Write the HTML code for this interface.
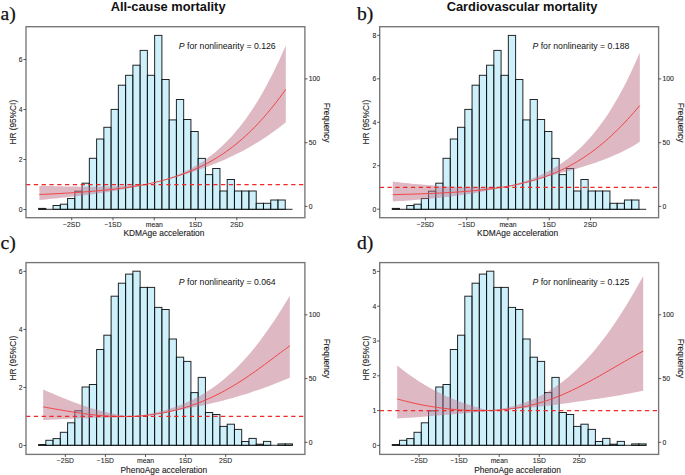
<!DOCTYPE html><html><head><meta charset="utf-8"><style>html,body{margin:0;padding:0;background:#fff;}svg{display:block;} .tk{fill:#222;stroke:#222;stroke-width:0.08px} .ax{fill:#1a1a1a;stroke:#1a1a1a;stroke-width:0.1px}</style></head><body>
<svg width="685" height="475" viewBox="0 0 685 475" font-family="Liberation Sans, sans-serif">
<rect width="685" height="475" fill="#fff"/>
<g transform="translate(0,0)">
<path d="M39.4,185.65 L42.52,185.76 L45.64,185.86 L48.76,185.96 L51.88,186.06 L54.99,186.15 L58.11,186.23 L61.23,186.31 L64.35,186.38 L67.47,186.45 L70.59,186.5 L73.71,186.55 L76.83,186.6 L79.95,186.63 L83.07,186.66 L86.18,186.67 L89.3,186.68 L92.42,186.67 L95.54,186.66 L98.66,186.63 L101.78,186.59 L104.9,186.54 L108.02,186.48 L111.14,186.4 L114.26,186.31 L117.37,186.2 L120.49,186.08 L123.61,185.95 L126.73,185.79 L129.85,185.62 L132.97,185.43 L136.09,185.22 L139.21,184.99 L142.33,184.74 L145.45,184.42 L148.56,183.74 L151.68,183.02 L154.8,182.25 L157.92,181.42 L161.04,180.53 L164.16,179.58 L167.28,178.57 L170.4,177.49 L173.52,176.35 L176.64,175.13 L179.75,173.83 L182.87,172.45 L185.99,170.99 L189.11,169.44 L192.23,167.79 L195.35,166.04 L198.47,164.19 L201.59,162.22 L204.71,160.14 L207.83,157.94 L210.94,155.61 L214.06,153.14 L217.18,150.53 L220.3,147.78 L223.42,144.87 L226.54,141.8 L229.66,138.57 L232.78,135.16 L235.9,131.57 L239.02,127.79 L242.13,123.83 L245.25,119.66 L248.37,115.29 L251.49,110.71 L254.61,105.92 L257.73,100.91 L260.85,95.67 L263.97,90.21 L267.09,84.52 L270.21,78.6 L273.32,72.44 L276.44,66.05 L279.56,59.44 L282.68,52.59 L285.8,45.52 L285.8,122.24 L282.68,124.74 L279.56,127.17 L276.44,129.52 L273.32,131.8 L270.21,134.01 L267.09,136.16 L263.97,138.24 L260.85,140.26 L257.73,142.21 L254.61,144.11 L251.49,145.95 L248.37,147.73 L245.25,149.46 L242.13,151.14 L239.02,152.76 L235.9,154.34 L232.78,155.87 L229.66,157.35 L226.54,158.79 L223.42,160.18 L220.3,161.53 L217.18,162.83 L214.06,164.1 L210.94,165.33 L207.83,166.52 L204.71,167.67 L201.59,168.79 L198.47,169.88 L195.35,170.94 L192.23,171.96 L189.11,172.95 L185.99,173.92 L182.87,174.86 L179.75,175.78 L176.64,176.67 L173.52,177.54 L170.4,178.38 L167.28,179.2 L164.16,180.07 L161.04,180.9 L157.92,181.68 L154.8,182.42 L151.68,183.12 L148.56,183.79 L145.45,184.42 L142.33,185.18 L139.21,185.93 L136.09,186.64 L132.97,187.33 L129.85,187.99 L126.73,188.62 L123.61,189.23 L120.49,189.81 L117.37,190.37 L114.26,190.91 L111.14,191.44 L108.02,191.94 L104.9,192.42 L101.78,192.89 L98.66,193.35 L95.54,193.79 L92.42,194.21 L89.3,194.63 L86.18,195.03 L83.07,195.42 L79.95,195.8 L76.83,196.16 L73.71,196.52 L70.59,196.87 L67.47,197.21 L64.35,197.54 L61.23,197.87 L58.11,198.19 L54.99,198.5 L51.88,198.8 L48.76,199.1 L45.64,199.39 L42.52,199.67 L39.4,199.95 Z" fill="#f1eeed"/>
<line x1="38.55" y1="209.3" x2="292.5" y2="209.3" stroke="#000" stroke-opacity="0.85" stroke-width="1"/>
<g fill="#ace6f8" fill-opacity="0.6" stroke="#000" stroke-opacity="0.85" stroke-width="1"><rect x="38.55" y="208.4" width="7.26" height="0.9"/><rect x="45.81" y="209.3" width="7.26" height="0"/><rect x="53.06" y="205.5" width="7.26" height="3.8"/><rect x="60.32" y="204.2" width="7.26" height="5.1"/><rect x="67.57" y="198.5" width="7.26" height="10.8"/><rect x="74.83" y="191.2" width="7.26" height="18.1"/><rect x="82.08" y="183.2" width="7.26" height="26.1"/><rect x="89.34" y="158.3" width="7.26" height="51"/><rect x="96.6" y="139" width="7.26" height="70.3"/><rect x="103.85" y="127.3" width="7.26" height="82"/><rect x="111.11" y="109.4" width="7.26" height="99.9"/><rect x="118.36" y="85.2" width="7.26" height="124.1"/><rect x="125.62" y="75.3" width="7.26" height="134"/><rect x="132.87" y="65.2" width="7.26" height="144.1"/><rect x="140.13" y="50.4" width="7.26" height="158.9"/><rect x="147.39" y="75.3" width="7.26" height="134"/><rect x="154.64" y="35.4" width="7.26" height="173.9"/><rect x="161.9" y="79.5" width="7.26" height="129.8"/><rect x="169.15" y="119.9" width="7.26" height="89.4"/><rect x="176.41" y="99.5" width="7.26" height="109.8"/><rect x="183.66" y="119.5" width="7.26" height="89.8"/><rect x="190.92" y="131.5" width="7.26" height="77.8"/><rect x="198.18" y="158.4" width="7.26" height="50.9"/><rect x="205.43" y="174.6" width="7.26" height="34.7"/><rect x="212.69" y="168.5" width="7.26" height="40.8"/><rect x="219.94" y="191" width="7.26" height="18.3"/><rect x="227.2" y="179.5" width="7.26" height="29.8"/><rect x="234.45" y="191" width="7.26" height="18.3"/><rect x="241.71" y="191" width="7.26" height="18.3"/><rect x="248.97" y="191" width="7.26" height="18.3"/><rect x="256.22" y="203.3" width="7.26" height="6"/><rect x="263.48" y="203.3" width="7.26" height="6"/><rect x="270.73" y="200" width="7.26" height="9.3"/><rect x="277.99" y="200" width="7.26" height="9.3"/><rect x="285.24" y="209.3" width="7.26" height="0"/></g>
<path d="M39.4,185.65 L42.52,185.76 L45.64,185.86 L48.76,185.96 L51.88,186.06 L54.99,186.15 L58.11,186.23 L61.23,186.31 L64.35,186.38 L67.47,186.45 L70.59,186.5 L73.71,186.55 L76.83,186.6 L79.95,186.63 L83.07,186.66 L86.18,186.67 L89.3,186.68 L92.42,186.67 L95.54,186.66 L98.66,186.63 L101.78,186.59 L104.9,186.54 L108.02,186.48 L111.14,186.4 L114.26,186.31 L117.37,186.2 L120.49,186.08 L123.61,185.95 L126.73,185.79 L129.85,185.62 L132.97,185.43 L136.09,185.22 L139.21,184.99 L142.33,184.74 L145.45,184.42 L148.56,183.74 L151.68,183.02 L154.8,182.25 L157.92,181.42 L161.04,180.53 L164.16,179.58 L167.28,178.57 L170.4,177.49 L173.52,176.35 L176.64,175.13 L179.75,173.83 L182.87,172.45 L185.99,170.99 L189.11,169.44 L192.23,167.79 L195.35,166.04 L198.47,164.19 L201.59,162.22 L204.71,160.14 L207.83,157.94 L210.94,155.61 L214.06,153.14 L217.18,150.53 L220.3,147.78 L223.42,144.87 L226.54,141.8 L229.66,138.57 L232.78,135.16 L235.9,131.57 L239.02,127.79 L242.13,123.83 L245.25,119.66 L248.37,115.29 L251.49,110.71 L254.61,105.92 L257.73,100.91 L260.85,95.67 L263.97,90.21 L267.09,84.52 L270.21,78.6 L273.32,72.44 L276.44,66.05 L279.56,59.44 L282.68,52.59 L285.8,45.52 L285.8,122.24 L282.68,124.74 L279.56,127.17 L276.44,129.52 L273.32,131.8 L270.21,134.01 L267.09,136.16 L263.97,138.24 L260.85,140.26 L257.73,142.21 L254.61,144.11 L251.49,145.95 L248.37,147.73 L245.25,149.46 L242.13,151.14 L239.02,152.76 L235.9,154.34 L232.78,155.87 L229.66,157.35 L226.54,158.79 L223.42,160.18 L220.3,161.53 L217.18,162.83 L214.06,164.1 L210.94,165.33 L207.83,166.52 L204.71,167.67 L201.59,168.79 L198.47,169.88 L195.35,170.94 L192.23,171.96 L189.11,172.95 L185.99,173.92 L182.87,174.86 L179.75,175.78 L176.64,176.67 L173.52,177.54 L170.4,178.38 L167.28,179.2 L164.16,180.07 L161.04,180.9 L157.92,181.68 L154.8,182.42 L151.68,183.12 L148.56,183.79 L145.45,184.42 L142.33,185.18 L139.21,185.93 L136.09,186.64 L132.97,187.33 L129.85,187.99 L126.73,188.62 L123.61,189.23 L120.49,189.81 L117.37,190.37 L114.26,190.91 L111.14,191.44 L108.02,191.94 L104.9,192.42 L101.78,192.89 L98.66,193.35 L95.54,193.79 L92.42,194.21 L89.3,194.63 L86.18,195.03 L83.07,195.42 L79.95,195.8 L76.83,196.16 L73.71,196.52 L70.59,196.87 L67.47,197.21 L64.35,197.54 L61.23,197.87 L58.11,198.19 L54.99,198.5 L51.88,198.8 L48.76,199.1 L45.64,199.39 L42.52,199.67 L39.4,199.95 Z" fill="#c87890" fill-opacity="0.45"/>
<path d="M39.4,194.55 L42.52,194.4 L45.64,194.25 L48.76,194.09 L51.88,193.93 L54.99,193.77 L58.11,193.6 L61.23,193.43 L64.35,193.25 L67.47,193.06 L70.59,192.87 L73.71,192.67 L76.83,192.46 L79.95,192.25 L83.07,192.03 L86.18,191.79 L89.3,191.55 L92.42,191.3 L95.54,191.03 L98.66,190.76 L101.78,190.46 L104.9,190.16 L108.02,189.84 L111.14,189.51 L114.26,189.16 L117.37,188.79 L120.49,188.4 L123.61,187.99 L126.73,187.56 L129.85,187.1 L132.97,186.62 L136.09,186.12 L139.21,185.58 L142.33,185.02 L145.45,184.42 L148.56,183.79 L151.68,183.12 L154.8,182.42 L157.92,181.68 L161.04,180.9 L164.16,180.07 L167.28,179.2 L170.4,178.29 L173.52,177.33 L176.64,176.32 L179.75,175.26 L182.87,174.14 L185.99,172.97 L189.11,171.74 L192.23,170.44 L195.35,169.09 L198.47,167.66 L201.59,166.17 L204.71,164.6 L207.83,162.96 L210.94,161.24 L214.06,159.43 L217.18,157.54 L220.3,155.56 L223.42,153.5 L226.54,151.33 L229.66,149.07 L232.78,146.71 L235.9,144.25 L239.02,141.68 L242.13,139.01 L245.25,136.23 L248.37,133.33 L251.49,130.32 L254.61,127.19 L257.73,123.94 L260.85,120.57 L263.97,117.09 L267.09,113.48 L270.21,109.74 L273.32,105.89 L276.44,101.91 L279.56,97.81 L282.68,93.59 L285.8,89.25" fill="none" stroke="#f04545" stroke-width="1"/>
<line x1="26" y1="184.5" x2="304.9" y2="184.5" stroke="#f02828" stroke-width="1.25" stroke-dasharray="4.3,3.5"/>
<rect x="26" y="26.7" width="278.9" height="191" fill="none" stroke="#767676" stroke-width="1.35"/>
<line x1="23.4" y1="209.5" x2="26" y2="209.5" stroke="#333" stroke-width="0.8"/>
<text x="22.5" y="211.9" font-size="6.8" text-anchor="end" class="tk">0</text>
<line x1="23.4" y1="159.5" x2="26" y2="159.5" stroke="#333" stroke-width="0.8"/>
<text x="22.5" y="161.9" font-size="6.8" text-anchor="end" class="tk">2</text>
<line x1="23.4" y1="109.5" x2="26" y2="109.5" stroke="#333" stroke-width="0.8"/>
<text x="22.5" y="111.9" font-size="6.8" text-anchor="end" class="tk">4</text>
<line x1="23.4" y1="59.5" x2="26" y2="59.5" stroke="#333" stroke-width="0.8"/>
<text x="22.5" y="61.9" font-size="6.8" text-anchor="end" class="tk">6</text>
<line x1="304.9" y1="206.4" x2="307.5" y2="206.4" stroke="#333" stroke-width="0.8"/>
<text x="308.7" y="208.8" font-size="6.8" class="tk">0</text>
<line x1="304.9" y1="142.7" x2="307.5" y2="142.7" stroke="#333" stroke-width="0.8"/>
<text x="308.7" y="145.1" font-size="6.8" class="tk">50</text>
<line x1="304.9" y1="78.9" x2="307.5" y2="78.9" stroke="#333" stroke-width="0.8"/>
<text x="308.7" y="81.3" font-size="6.8" class="tk">100</text>
<line x1="71.72" y1="217.7" x2="71.72" y2="220.3" stroke="#333" stroke-width="0.8"/>
<text x="71.72" y="226.6" font-size="6.8" text-anchor="middle" class="tk">−2SD</text>
<line x1="112.99" y1="217.7" x2="112.99" y2="220.3" stroke="#333" stroke-width="0.8"/>
<text x="112.99" y="226.6" font-size="6.8" text-anchor="middle" class="tk">−1SD</text>
<line x1="154.26" y1="217.7" x2="154.26" y2="220.3" stroke="#333" stroke-width="0.8"/>
<text x="154.26" y="226.6" font-size="6.8" text-anchor="middle" class="tk">mean</text>
<line x1="195.53" y1="217.7" x2="195.53" y2="220.3" stroke="#333" stroke-width="0.8"/>
<text x="195.53" y="226.6" font-size="6.8" text-anchor="middle" class="tk">1SD</text>
<line x1="236.8" y1="217.7" x2="236.8" y2="220.3" stroke="#333" stroke-width="0.8"/>
<text x="236.8" y="226.6" font-size="6.8" text-anchor="middle" class="tk">2SD</text>
<text x="163.9" y="236.4" font-size="8.4" text-anchor="middle" class="ax">KDMAge acceleration</text>
<text transform="translate(15.6,122.2) rotate(-90)" font-size="8.3" text-anchor="middle" class="ax">HR (95%CI)</text>
<text transform="translate(324.2,122.6) rotate(90)" font-size="8.4" text-anchor="middle" class="ax">Frequency</text>
<text x="178.8" y="48.8" font-size="8.7" fill="#111"><tspan font-style="italic">P</tspan> for nonlinearity = 0.126</text>
<text x="0.6" y="20.1" font-family="Liberation Serif, serif" font-size="19.6" fill="#111" stroke="#111" stroke-width="0.25">a)</text>
<text x="168.1" y="11.2" font-size="12.85" font-weight="bold" text-anchor="middle" fill="#111">All-cause mortality</text>
</g>
<g transform="translate(353.7,0)">
<path d="M39.1,181.62 L42.23,181.99 L45.35,182.35 L48.48,182.69 L51.61,183.03 L54.73,183.35 L57.86,183.67 L60.99,183.97 L64.11,184.27 L67.24,184.55 L70.37,184.82 L73.49,185.08 L76.62,185.33 L79.75,185.56 L82.87,185.79 L86,186 L89.13,186.2 L92.25,186.39 L95.38,186.56 L98.51,186.72 L101.63,186.87 L104.76,187.01 L107.88,187.13 L111.01,187.25 L114.14,187.34 L117.26,187.43 L120.39,187.49 L123.52,187.55 L126.64,187.59 L129.77,187.61 L132.9,187.62 L136.02,187.62 L139.15,187.6 L142.28,187.56 L145.4,187.5 L148.53,187.15 L151.66,186.48 L154.78,185.76 L157.91,185 L161.04,184.19 L164.16,183.33 L167.29,182.41 L170.42,181.42 L173.54,180.37 L176.67,179.25 L179.8,178.05 L182.92,176.78 L186.05,175.42 L189.18,173.98 L192.3,172.44 L195.43,170.81 L198.56,169.07 L201.68,167.23 L204.81,165.27 L207.94,163.2 L211.06,161 L214.19,158.67 L217.32,156.2 L220.44,153.58 L223.57,150.82 L226.69,147.89 L229.82,144.8 L232.95,141.53 L236.07,138.09 L239.2,134.45 L242.33,130.62 L245.45,126.59 L248.58,122.34 L251.71,117.88 L254.83,113.19 L257.96,108.27 L261.09,103.11 L264.21,97.7 L267.34,92.05 L270.47,86.13 L273.59,79.96 L276.72,73.53 L279.85,66.83 L282.97,59.87 L286.1,52.64 L286.1,141.85 L282.97,143.8 L279.85,145.65 L276.72,147.42 L273.59,149.1 L270.47,150.7 L267.34,152.24 L264.21,153.7 L261.09,155.11 L257.96,156.45 L254.83,157.74 L251.71,158.99 L248.58,160.18 L245.45,161.34 L242.33,162.46 L239.2,163.54 L236.07,164.58 L232.95,165.6 L229.82,166.58 L226.69,167.54 L223.57,168.48 L220.44,169.39 L217.32,170.29 L214.19,171.16 L211.06,172.02 L207.94,172.86 L204.81,173.68 L201.68,174.49 L198.56,175.29 L195.43,176.08 L192.3,176.86 L189.18,177.63 L186.05,178.52 L182.92,179.51 L179.8,180.44 L176.67,181.32 L173.54,182.15 L170.42,182.93 L167.29,183.66 L164.16,184.35 L161.04,185 L157.91,185.61 L154.78,186.18 L151.66,186.72 L148.53,187.23 L145.4,187.89 L142.28,188.67 L139.15,189.41 L136.02,190.12 L132.9,190.79 L129.77,191.42 L126.64,192.02 L123.52,192.59 L120.39,193.14 L117.26,193.66 L114.14,194.15 L111.01,194.62 L107.88,195.07 L104.76,195.5 L101.63,195.91 L98.51,196.3 L95.38,196.68 L92.25,197.04 L89.13,197.39 L86,197.72 L82.87,198.04 L79.75,198.35 L76.62,198.65 L73.49,198.93 L70.37,199.21 L67.24,199.47 L64.11,199.73 L60.99,199.98 L57.86,200.22 L54.73,200.45 L51.61,200.67 L48.48,200.89 L45.35,201.11 L42.23,201.31 L39.1,201.51 Z" fill="#f1eeed"/>
<line x1="38.55" y1="209.3" x2="292.5" y2="209.3" stroke="#000" stroke-opacity="0.85" stroke-width="1"/>
<g fill="#ace6f8" fill-opacity="0.6" stroke="#000" stroke-opacity="0.85" stroke-width="1"><rect x="38.55" y="208.4" width="7.26" height="0.9"/><rect x="45.81" y="209.3" width="7.26" height="0"/><rect x="53.06" y="205.5" width="7.26" height="3.8"/><rect x="60.32" y="204.2" width="7.26" height="5.1"/><rect x="67.57" y="198.5" width="7.26" height="10.8"/><rect x="74.83" y="191.2" width="7.26" height="18.1"/><rect x="82.08" y="183.2" width="7.26" height="26.1"/><rect x="89.34" y="158.3" width="7.26" height="51"/><rect x="96.6" y="139" width="7.26" height="70.3"/><rect x="103.85" y="127.3" width="7.26" height="82"/><rect x="111.11" y="109.4" width="7.26" height="99.9"/><rect x="118.36" y="85.2" width="7.26" height="124.1"/><rect x="125.62" y="75.3" width="7.26" height="134"/><rect x="132.87" y="65.2" width="7.26" height="144.1"/><rect x="140.13" y="50.4" width="7.26" height="158.9"/><rect x="147.39" y="75.3" width="7.26" height="134"/><rect x="154.64" y="35.4" width="7.26" height="173.9"/><rect x="161.9" y="79.5" width="7.26" height="129.8"/><rect x="169.15" y="119.9" width="7.26" height="89.4"/><rect x="176.41" y="99.5" width="7.26" height="109.8"/><rect x="183.66" y="119.5" width="7.26" height="89.8"/><rect x="190.92" y="131.5" width="7.26" height="77.8"/><rect x="198.18" y="158.4" width="7.26" height="50.9"/><rect x="205.43" y="174.6" width="7.26" height="34.7"/><rect x="212.69" y="168.5" width="7.26" height="40.8"/><rect x="219.94" y="191" width="7.26" height="18.3"/><rect x="227.2" y="179.5" width="7.26" height="29.8"/><rect x="234.45" y="191" width="7.26" height="18.3"/><rect x="241.71" y="191" width="7.26" height="18.3"/><rect x="248.97" y="191" width="7.26" height="18.3"/><rect x="256.22" y="203.3" width="7.26" height="6"/><rect x="263.48" y="203.3" width="7.26" height="6"/><rect x="270.73" y="200" width="7.26" height="9.3"/><rect x="277.99" y="200" width="7.26" height="9.3"/><rect x="285.24" y="209.3" width="7.26" height="0"/></g>
<path d="M39.1,181.62 L42.23,181.99 L45.35,182.35 L48.48,182.69 L51.61,183.03 L54.73,183.35 L57.86,183.67 L60.99,183.97 L64.11,184.27 L67.24,184.55 L70.37,184.82 L73.49,185.08 L76.62,185.33 L79.75,185.56 L82.87,185.79 L86,186 L89.13,186.2 L92.25,186.39 L95.38,186.56 L98.51,186.72 L101.63,186.87 L104.76,187.01 L107.88,187.13 L111.01,187.25 L114.14,187.34 L117.26,187.43 L120.39,187.49 L123.52,187.55 L126.64,187.59 L129.77,187.61 L132.9,187.62 L136.02,187.62 L139.15,187.6 L142.28,187.56 L145.4,187.5 L148.53,187.15 L151.66,186.48 L154.78,185.76 L157.91,185 L161.04,184.19 L164.16,183.33 L167.29,182.41 L170.42,181.42 L173.54,180.37 L176.67,179.25 L179.8,178.05 L182.92,176.78 L186.05,175.42 L189.18,173.98 L192.3,172.44 L195.43,170.81 L198.56,169.07 L201.68,167.23 L204.81,165.27 L207.94,163.2 L211.06,161 L214.19,158.67 L217.32,156.2 L220.44,153.58 L223.57,150.82 L226.69,147.89 L229.82,144.8 L232.95,141.53 L236.07,138.09 L239.2,134.45 L242.33,130.62 L245.45,126.59 L248.58,122.34 L251.71,117.88 L254.83,113.19 L257.96,108.27 L261.09,103.11 L264.21,97.7 L267.34,92.05 L270.47,86.13 L273.59,79.96 L276.72,73.53 L279.85,66.83 L282.97,59.87 L286.1,52.64 L286.1,141.85 L282.97,143.8 L279.85,145.65 L276.72,147.42 L273.59,149.1 L270.47,150.7 L267.34,152.24 L264.21,153.7 L261.09,155.11 L257.96,156.45 L254.83,157.74 L251.71,158.99 L248.58,160.18 L245.45,161.34 L242.33,162.46 L239.2,163.54 L236.07,164.58 L232.95,165.6 L229.82,166.58 L226.69,167.54 L223.57,168.48 L220.44,169.39 L217.32,170.29 L214.19,171.16 L211.06,172.02 L207.94,172.86 L204.81,173.68 L201.68,174.49 L198.56,175.29 L195.43,176.08 L192.3,176.86 L189.18,177.63 L186.05,178.52 L182.92,179.51 L179.8,180.44 L176.67,181.32 L173.54,182.15 L170.42,182.93 L167.29,183.66 L164.16,184.35 L161.04,185 L157.91,185.61 L154.78,186.18 L151.66,186.72 L148.53,187.23 L145.4,187.89 L142.28,188.67 L139.15,189.41 L136.02,190.12 L132.9,190.79 L129.77,191.42 L126.64,192.02 L123.52,192.59 L120.39,193.14 L117.26,193.66 L114.14,194.15 L111.01,194.62 L107.88,195.07 L104.76,195.5 L101.63,195.91 L98.51,196.3 L95.38,196.68 L92.25,197.04 L89.13,197.39 L86,197.72 L82.87,198.04 L79.75,198.35 L76.62,198.65 L73.49,198.93 L70.37,199.21 L67.24,199.47 L64.11,199.73 L60.99,199.98 L57.86,200.22 L54.73,200.45 L51.61,200.67 L48.48,200.89 L45.35,201.11 L42.23,201.31 L39.1,201.51 Z" fill="#c87890" fill-opacity="0.45"/>
<path d="M39.1,194.66 L42.23,194.58 L45.35,194.51 L48.48,194.43 L51.61,194.34 L54.73,194.25 L57.86,194.16 L60.99,194.06 L64.11,193.96 L67.24,193.85 L70.37,193.74 L73.49,193.62 L76.62,193.49 L79.75,193.36 L82.87,193.21 L86,193.06 L89.13,192.9 L92.25,192.73 L95.38,192.55 L98.51,192.36 L101.63,192.16 L104.76,191.95 L107.88,191.72 L111.01,191.49 L114.14,191.23 L117.26,190.97 L120.39,190.68 L123.52,190.38 L126.64,190.06 L129.77,189.73 L132.9,189.37 L136.02,188.99 L139.15,188.59 L142.28,188.16 L145.4,187.71 L148.53,187.23 L151.66,186.72 L154.78,186.18 L157.91,185.61 L161.04,185 L164.16,184.35 L167.29,183.66 L170.42,182.93 L173.54,182.15 L176.67,181.32 L179.8,180.44 L182.92,179.51 L186.05,178.52 L189.18,177.47 L192.3,176.37 L195.43,175.2 L198.56,173.97 L201.68,172.68 L204.81,171.31 L207.94,169.88 L211.06,168.37 L214.19,166.78 L217.32,165.12 L220.44,163.38 L223.57,161.55 L226.69,159.64 L229.82,157.64 L232.95,155.55 L236.07,153.37 L239.2,151.1 L242.33,148.73 L245.45,146.26 L248.58,143.7 L251.71,141.04 L254.83,138.28 L257.96,135.42 L261.09,132.47 L264.21,129.41 L267.34,126.27 L270.47,123.02 L273.59,119.69 L276.72,116.26 L279.85,112.75 L282.97,109.16 L286.1,105.5" fill="none" stroke="#f04545" stroke-width="1"/>
<line x1="26" y1="187.47" x2="304.9" y2="187.47" stroke="#f02828" stroke-width="1.25" stroke-dasharray="4.3,3.5"/>
<rect x="26" y="26.7" width="278.9" height="191" fill="none" stroke="#767676" stroke-width="1.35"/>
<line x1="23.4" y1="209.2" x2="26" y2="209.2" stroke="#333" stroke-width="0.8"/>
<text x="22.5" y="211.6" font-size="6.8" text-anchor="end" class="tk">0</text>
<line x1="23.4" y1="165.74" x2="26" y2="165.74" stroke="#333" stroke-width="0.8"/>
<text x="22.5" y="168.14" font-size="6.8" text-anchor="end" class="tk">2</text>
<line x1="23.4" y1="122.28" x2="26" y2="122.28" stroke="#333" stroke-width="0.8"/>
<text x="22.5" y="124.68" font-size="6.8" text-anchor="end" class="tk">4</text>
<line x1="23.4" y1="78.82" x2="26" y2="78.82" stroke="#333" stroke-width="0.8"/>
<text x="22.5" y="81.22" font-size="6.8" text-anchor="end" class="tk">6</text>
<line x1="23.4" y1="35.36" x2="26" y2="35.36" stroke="#333" stroke-width="0.8"/>
<text x="22.5" y="37.76" font-size="6.8" text-anchor="end" class="tk">8</text>
<line x1="304.9" y1="206.4" x2="307.5" y2="206.4" stroke="#333" stroke-width="0.8"/>
<text x="308.7" y="208.8" font-size="6.8" class="tk">0</text>
<line x1="304.9" y1="142.7" x2="307.5" y2="142.7" stroke="#333" stroke-width="0.8"/>
<text x="308.7" y="145.1" font-size="6.8" class="tk">50</text>
<line x1="304.9" y1="78.9" x2="307.5" y2="78.9" stroke="#333" stroke-width="0.8"/>
<text x="308.7" y="81.3" font-size="6.8" class="tk">100</text>
<line x1="71.72" y1="217.7" x2="71.72" y2="220.3" stroke="#333" stroke-width="0.8"/>
<text x="71.72" y="226.6" font-size="6.8" text-anchor="middle" class="tk">−2SD</text>
<line x1="112.99" y1="217.7" x2="112.99" y2="220.3" stroke="#333" stroke-width="0.8"/>
<text x="112.99" y="226.6" font-size="6.8" text-anchor="middle" class="tk">−1SD</text>
<line x1="154.26" y1="217.7" x2="154.26" y2="220.3" stroke="#333" stroke-width="0.8"/>
<text x="154.26" y="226.6" font-size="6.8" text-anchor="middle" class="tk">mean</text>
<line x1="195.53" y1="217.7" x2="195.53" y2="220.3" stroke="#333" stroke-width="0.8"/>
<text x="195.53" y="226.6" font-size="6.8" text-anchor="middle" class="tk">1SD</text>
<line x1="236.8" y1="217.7" x2="236.8" y2="220.3" stroke="#333" stroke-width="0.8"/>
<text x="236.8" y="226.6" font-size="6.8" text-anchor="middle" class="tk">2SD</text>
<text x="163.9" y="236.4" font-size="8.4" text-anchor="middle" class="ax">KDMAge acceleration</text>
<text transform="translate(15.6,122.2) rotate(-90)" font-size="8.3" text-anchor="middle" class="ax">HR (95%CI)</text>
<text transform="translate(324.2,122.6) rotate(90)" font-size="8.4" text-anchor="middle" class="ax">Frequency</text>
<text x="178.8" y="48.8" font-size="8.7" fill="#111"><tspan font-style="italic">P</tspan> for nonlinearity = 0.188</text>
<text x="3.3" y="20.1" font-family="Liberation Serif, serif" font-size="19.6" fill="#111" stroke="#111" stroke-width="0.25">b)</text>
<text x="168.3" y="11.2" font-size="12.85" font-weight="bold" text-anchor="middle" fill="#111">Cardiovascular mortality</text>
</g>
<g transform="translate(0,235.9)">
<path d="M43.2,153.65 L46.32,155 L49.44,156.35 L52.56,157.69 L55.69,159.02 L58.81,160.33 L61.93,161.63 L65.05,162.9 L68.17,164.14 L71.29,165.35 L74.42,166.53 L77.54,167.68 L80.66,168.78 L83.78,169.85 L86.9,170.88 L90.02,171.87 L93.14,172.81 L96.27,173.72 L99.39,174.58 L102.51,175.39 L105.63,176.16 L108.75,176.89 L111.87,177.57 L114.99,178.21 L118.12,178.8 L121.24,179.34 L124.36,179.84 L127.48,180.3 L130.6,180.58 L133.72,180.27 L136.85,179.91 L139.97,179.5 L143.09,179.03 L146.21,178.52 L149.33,177.96 L152.45,177.34 L155.57,176.66 L158.7,175.93 L161.82,175.14 L164.94,174.29 L168.06,173.38 L171.18,172.4 L174.3,171.36 L177.43,170.24 L180.55,169.06 L183.67,167.8 L186.79,166.46 L189.91,165.04 L193.03,163.53 L196.15,161.94 L199.28,160.26 L202.4,158.48 L205.52,156.61 L208.64,154.63 L211.76,152.55 L214.88,150.37 L218.01,148.07 L221.13,145.65 L224.25,143.12 L227.37,140.47 L230.49,137.7 L233.61,134.79 L236.73,131.76 L239.86,128.6 L242.98,125.3 L246.1,121.86 L249.22,118.29 L252.34,114.58 L255.46,110.73 L258.58,106.75 L261.71,102.62 L264.83,98.36 L267.95,93.97 L271.07,89.45 L274.19,84.8 L277.31,80.03 L280.44,75.15 L283.56,70.15 L286.68,65.06 L289.8,59.88 L289.8,141.85 L286.68,143.16 L283.56,144.45 L280.44,145.71 L277.31,146.95 L274.19,148.16 L271.07,149.35 L267.95,150.52 L264.83,151.65 L261.71,152.77 L258.58,153.86 L255.46,154.93 L252.34,155.97 L249.22,156.99 L246.1,157.98 L242.98,158.95 L239.86,159.9 L236.73,160.82 L233.61,161.73 L230.49,162.6 L227.37,163.46 L224.25,164.29 L221.13,165.11 L218.01,165.9 L214.88,166.67 L211.76,167.41 L208.64,168.14 L205.52,168.85 L202.4,169.53 L199.28,170.2 L196.15,170.85 L193.03,171.47 L189.91,172.08 L186.79,172.67 L183.67,173.24 L180.55,173.79 L177.43,174.33 L174.3,174.85 L171.18,175.35 L168.06,176.01 L164.94,176.65 L161.82,177.25 L158.7,177.8 L155.57,178.3 L152.45,178.75 L149.33,179.15 L146.21,179.51 L143.09,179.83 L139.97,180.09 L136.85,180.31 L133.72,180.49 L130.6,180.61 L127.48,180.82 L124.36,181.03 L121.24,181.21 L118.12,181.37 L114.99,181.52 L111.87,181.64 L108.75,181.76 L105.63,181.85 L102.51,181.94 L99.39,182.03 L96.27,182.1 L93.14,182.17 L90.02,182.24 L86.9,182.31 L83.78,182.39 L80.66,182.46 L77.54,182.55 L74.42,182.64 L71.29,182.74 L68.17,182.86 L65.05,182.99 L61.93,183.13 L58.81,183.3 L55.69,183.48 L52.56,183.68 L49.44,183.91 L46.32,184.15 L43.2,184.43 Z" fill="#f1eeed"/>
<line x1="38.55" y1="209.4" x2="292.5" y2="209.4" stroke="#000" stroke-opacity="0.85" stroke-width="1"/>
<g fill="#ace6f8" fill-opacity="0.6" stroke="#000" stroke-opacity="0.85" stroke-width="1"><rect x="38.55" y="208.6" width="7.26" height="0.8"/><rect x="45.81" y="204.4" width="7.26" height="5"/><rect x="53.06" y="202.7" width="7.26" height="6.7"/><rect x="60.32" y="196.4" width="7.26" height="13"/><rect x="67.57" y="186.9" width="7.26" height="22.5"/><rect x="74.83" y="174.9" width="7.26" height="34.5"/><rect x="82.08" y="151.1" width="7.26" height="58.3"/><rect x="89.34" y="148.6" width="7.26" height="60.8"/><rect x="96.6" y="113.6" width="7.26" height="95.8"/><rect x="103.85" y="99.3" width="7.26" height="110.1"/><rect x="111.11" y="60.3" width="7.26" height="149.1"/><rect x="118.36" y="47.3" width="7.26" height="162.1"/><rect x="125.62" y="38.2" width="7.26" height="171.2"/><rect x="132.87" y="35.3" width="7.26" height="174.1"/><rect x="140.13" y="51.5" width="7.26" height="157.9"/><rect x="147.39" y="51.5" width="7.26" height="157.9"/><rect x="154.64" y="71.5" width="7.26" height="137.9"/><rect x="161.9" y="73.6" width="7.26" height="135.8"/><rect x="169.15" y="103.1" width="7.26" height="106.3"/><rect x="176.41" y="121.3" width="7.26" height="88.1"/><rect x="183.66" y="125.5" width="7.26" height="83.9"/><rect x="190.92" y="156.7" width="7.26" height="52.7"/><rect x="198.18" y="141.5" width="7.26" height="67.9"/><rect x="205.43" y="176.6" width="7.26" height="32.8"/><rect x="212.69" y="178.6" width="7.26" height="30.8"/><rect x="219.94" y="190.5" width="7.26" height="18.9"/><rect x="227.2" y="188.3" width="7.26" height="21.1"/><rect x="234.45" y="193.5" width="7.26" height="15.9"/><rect x="241.71" y="205.6" width="7.26" height="3.8"/><rect x="248.97" y="202.5" width="7.26" height="6.9"/><rect x="256.22" y="208.3" width="7.26" height="1.1"/><rect x="263.48" y="205.5" width="7.26" height="3.9"/><rect x="270.73" y="209.4" width="7.26" height="0"/><rect x="277.99" y="208" width="7.26" height="1.4"/><rect x="285.24" y="208" width="7.26" height="1.4"/></g>
<path d="M43.2,153.65 L46.32,155 L49.44,156.35 L52.56,157.69 L55.69,159.02 L58.81,160.33 L61.93,161.63 L65.05,162.9 L68.17,164.14 L71.29,165.35 L74.42,166.53 L77.54,167.68 L80.66,168.78 L83.78,169.85 L86.9,170.88 L90.02,171.87 L93.14,172.81 L96.27,173.72 L99.39,174.58 L102.51,175.39 L105.63,176.16 L108.75,176.89 L111.87,177.57 L114.99,178.21 L118.12,178.8 L121.24,179.34 L124.36,179.84 L127.48,180.3 L130.6,180.58 L133.72,180.27 L136.85,179.91 L139.97,179.5 L143.09,179.03 L146.21,178.52 L149.33,177.96 L152.45,177.34 L155.57,176.66 L158.7,175.93 L161.82,175.14 L164.94,174.29 L168.06,173.38 L171.18,172.4 L174.3,171.36 L177.43,170.24 L180.55,169.06 L183.67,167.8 L186.79,166.46 L189.91,165.04 L193.03,163.53 L196.15,161.94 L199.28,160.26 L202.4,158.48 L205.52,156.61 L208.64,154.63 L211.76,152.55 L214.88,150.37 L218.01,148.07 L221.13,145.65 L224.25,143.12 L227.37,140.47 L230.49,137.7 L233.61,134.79 L236.73,131.76 L239.86,128.6 L242.98,125.3 L246.1,121.86 L249.22,118.29 L252.34,114.58 L255.46,110.73 L258.58,106.75 L261.71,102.62 L264.83,98.36 L267.95,93.97 L271.07,89.45 L274.19,84.8 L277.31,80.03 L280.44,75.15 L283.56,70.15 L286.68,65.06 L289.8,59.88 L289.8,141.85 L286.68,143.16 L283.56,144.45 L280.44,145.71 L277.31,146.95 L274.19,148.16 L271.07,149.35 L267.95,150.52 L264.83,151.65 L261.71,152.77 L258.58,153.86 L255.46,154.93 L252.34,155.97 L249.22,156.99 L246.1,157.98 L242.98,158.95 L239.86,159.9 L236.73,160.82 L233.61,161.73 L230.49,162.6 L227.37,163.46 L224.25,164.29 L221.13,165.11 L218.01,165.9 L214.88,166.67 L211.76,167.41 L208.64,168.14 L205.52,168.85 L202.4,169.53 L199.28,170.2 L196.15,170.85 L193.03,171.47 L189.91,172.08 L186.79,172.67 L183.67,173.24 L180.55,173.79 L177.43,174.33 L174.3,174.85 L171.18,175.35 L168.06,176.01 L164.94,176.65 L161.82,177.25 L158.7,177.8 L155.57,178.3 L152.45,178.75 L149.33,179.15 L146.21,179.51 L143.09,179.83 L139.97,180.09 L136.85,180.31 L133.72,180.49 L130.6,180.61 L127.48,180.82 L124.36,181.03 L121.24,181.21 L118.12,181.37 L114.99,181.52 L111.87,181.64 L108.75,181.76 L105.63,181.85 L102.51,181.94 L99.39,182.03 L96.27,182.1 L93.14,182.17 L90.02,182.24 L86.9,182.31 L83.78,182.39 L80.66,182.46 L77.54,182.55 L74.42,182.64 L71.29,182.74 L68.17,182.86 L65.05,182.99 L61.93,183.13 L58.81,183.3 L55.69,183.48 L52.56,183.68 L49.44,183.91 L46.32,184.15 L43.2,184.43 Z" fill="#c87890" fill-opacity="0.45"/>
<path d="M43.2,171 L46.32,171.55 L49.44,172.1 L52.56,172.66 L55.69,173.22 L58.81,173.77 L61.93,174.31 L65.05,174.85 L68.17,175.37 L71.29,175.88 L74.42,176.38 L77.54,176.85 L80.66,177.31 L83.78,177.74 L86.9,178.15 L90.02,178.54 L93.14,178.9 L96.27,179.23 L99.39,179.53 L102.51,179.8 L105.63,180.04 L108.75,180.25 L111.87,180.42 L114.99,180.56 L118.12,180.65 L121.24,180.71 L124.36,180.72 L127.48,180.69 L130.6,180.61 L133.72,180.49 L136.85,180.31 L139.97,180.09 L143.09,179.83 L146.21,179.51 L149.33,179.15 L152.45,178.75 L155.57,178.3 L158.7,177.8 L161.82,177.25 L164.94,176.65 L168.06,176.01 L171.18,175.32 L174.3,174.57 L177.43,173.78 L180.55,172.93 L183.67,172.03 L186.79,171.08 L189.91,170.07 L193.03,169 L196.15,167.88 L199.28,166.7 L202.4,165.46 L205.52,164.16 L208.64,162.8 L211.76,161.38 L214.88,159.89 L218.01,158.35 L221.13,156.74 L224.25,155.07 L227.37,153.35 L230.49,151.56 L233.61,149.71 L236.73,147.8 L239.86,145.84 L242.98,143.83 L246.1,141.76 L249.22,139.64 L252.34,137.48 L255.46,135.28 L258.58,133.04 L261.71,130.77 L264.83,128.47 L267.95,126.15 L271.07,123.82 L274.19,121.48 L277.31,119.15 L280.44,116.82 L283.56,114.52 L286.68,112.24 L289.8,110" fill="none" stroke="#f04545" stroke-width="1"/>
<line x1="26" y1="180.58" x2="304.9" y2="180.58" stroke="#f02828" stroke-width="1.25" stroke-dasharray="4.3,3.5"/>
<rect x="26" y="26.7" width="278.9" height="191.8" fill="none" stroke="#767676" stroke-width="1.35"/>
<line x1="23.4" y1="209.6" x2="26" y2="209.6" stroke="#333" stroke-width="0.8"/>
<text x="22.5" y="212" font-size="6.8" text-anchor="end" class="tk">0</text>
<line x1="23.4" y1="151.56" x2="26" y2="151.56" stroke="#333" stroke-width="0.8"/>
<text x="22.5" y="153.96" font-size="6.8" text-anchor="end" class="tk">2</text>
<line x1="23.4" y1="93.52" x2="26" y2="93.52" stroke="#333" stroke-width="0.8"/>
<text x="22.5" y="95.92" font-size="6.8" text-anchor="end" class="tk">4</text>
<line x1="23.4" y1="35.48" x2="26" y2="35.48" stroke="#333" stroke-width="0.8"/>
<text x="22.5" y="37.88" font-size="6.8" text-anchor="end" class="tk">6</text>
<line x1="304.9" y1="206.4" x2="307.5" y2="206.4" stroke="#333" stroke-width="0.8"/>
<text x="308.7" y="208.8" font-size="6.8" class="tk">0</text>
<line x1="304.9" y1="142.7" x2="307.5" y2="142.7" stroke="#333" stroke-width="0.8"/>
<text x="308.7" y="145.1" font-size="6.8" class="tk">50</text>
<line x1="304.9" y1="78.9" x2="307.5" y2="78.9" stroke="#333" stroke-width="0.8"/>
<text x="308.7" y="81.3" font-size="6.8" class="tk">100</text>
<line x1="65.34" y1="218.5" x2="65.34" y2="221.1" stroke="#333" stroke-width="0.8"/>
<text x="65.34" y="227.4" font-size="6.8" text-anchor="middle" class="tk">−2SD</text>
<line x1="105.42" y1="218.5" x2="105.42" y2="221.1" stroke="#333" stroke-width="0.8"/>
<text x="105.42" y="227.4" font-size="6.8" text-anchor="middle" class="tk">−1SD</text>
<line x1="145.5" y1="218.5" x2="145.5" y2="221.1" stroke="#333" stroke-width="0.8"/>
<text x="145.5" y="227.4" font-size="6.8" text-anchor="middle" class="tk">mean</text>
<line x1="185.58" y1="218.5" x2="185.58" y2="221.1" stroke="#333" stroke-width="0.8"/>
<text x="185.58" y="227.4" font-size="6.8" text-anchor="middle" class="tk">1SD</text>
<line x1="225.66" y1="218.5" x2="225.66" y2="221.1" stroke="#333" stroke-width="0.8"/>
<text x="225.66" y="227.4" font-size="6.8" text-anchor="middle" class="tk">2SD</text>
<text x="163.8" y="237.2" font-size="8.4" text-anchor="middle" class="ax">PhenoAge acceleration</text>
<text transform="translate(15.6,122.2) rotate(-90)" font-size="8.3" text-anchor="middle" class="ax">HR (95%CI)</text>
<text transform="translate(324.2,122.6) rotate(90)" font-size="8.4" text-anchor="middle" class="ax">Frequency</text>
<text x="178.8" y="48.8" font-size="8.7" fill="#111"><tspan font-style="italic">P</tspan> for nonlinearity = 0.064</text>
<text x="0.6" y="13.4" font-family="Liberation Serif, serif" font-size="19.6" fill="#111" stroke="#111" stroke-width="0.25">c)</text>
</g>
<g transform="translate(353.7,235.9)">
<path d="M43.5,129.5 L46.61,132.04 L49.73,134.5 L52.84,136.86 L55.96,139.14 L59.07,141.33 L62.18,143.45 L65.3,145.48 L68.41,147.44 L71.53,149.32 L74.64,151.13 L77.75,152.87 L80.87,154.54 L83.98,156.14 L87.09,157.67 L90.21,159.15 L93.32,160.56 L96.44,161.91 L99.55,163.2 L102.66,164.44 L105.78,165.62 L108.89,166.75 L112.01,167.83 L115.12,168.86 L118.23,169.84 L121.35,170.77 L124.46,171.66 L127.58,172.5 L130.69,173.31 L133.8,174.07 L136.92,174.47 L140.03,174.05 L143.15,173.58 L146.26,173.06 L149.37,172.48 L152.49,171.85 L155.6,171.16 L158.72,170.4 L161.83,169.57 L164.94,168.67 L168.06,167.69 L171.17,166.62 L174.28,165.46 L177.4,164.22 L180.51,162.87 L183.63,161.43 L186.74,159.88 L189.85,158.24 L192.97,156.48 L196.08,154.62 L199.2,152.64 L202.31,150.55 L205.42,148.34 L208.54,146.01 L211.65,143.56 L214.77,140.98 L217.88,138.28 L220.99,135.45 L224.11,132.49 L227.22,129.41 L230.34,126.2 L233.45,122.86 L236.56,119.39 L239.68,115.79 L242.79,112.06 L245.91,108.19 L249.02,104.18 L252.13,100.04 L255.25,95.76 L258.36,91.35 L261.47,86.8 L264.59,82.11 L267.7,77.29 L270.82,72.35 L273.93,67.28 L277.04,62.09 L280.16,56.78 L283.27,51.36 L286.39,45.84 L289.5,40.22 L289.5,154.79 L286.39,155.45 L283.27,156.09 L280.16,156.7 L277.04,157.3 L273.93,157.88 L270.82,158.44 L267.7,158.99 L264.59,159.52 L261.47,160.05 L258.36,160.56 L255.25,161.06 L252.13,161.55 L249.02,162.03 L245.91,162.51 L242.79,162.98 L239.68,163.44 L236.56,163.9 L233.45,164.36 L230.34,164.82 L227.22,165.27 L224.11,165.72 L220.99,166.17 L217.88,166.62 L214.77,167.06 L211.65,167.49 L208.54,167.92 L205.42,168.34 L202.31,168.74 L199.2,169.14 L196.08,169.53 L192.97,169.9 L189.85,170.27 L186.74,170.61 L183.63,170.95 L180.51,171.27 L177.4,171.57 L174.28,171.85 L171.17,172.12 L168.06,172.37 L164.94,172.61 L161.83,172.83 L158.72,173.05 L155.6,173.25 L152.49,173.48 L149.37,173.77 L146.26,174.03 L143.15,174.24 L140.03,174.41 L136.92,174.55 L133.8,174.87 L130.69,175.27 L127.58,175.64 L124.46,176.01 L121.35,176.35 L118.23,176.69 L115.12,177.01 L112.01,177.31 L108.89,177.61 L105.78,177.9 L102.66,178.17 L99.55,178.44 L96.44,178.71 L93.32,178.96 L90.21,179.21 L87.09,179.45 L83.98,179.69 L80.87,179.93 L77.75,180.16 L74.64,180.39 L71.53,180.61 L68.41,180.84 L65.3,181.06 L62.18,181.29 L59.07,181.51 L55.96,181.74 L52.84,181.97 L49.73,182.2 L46.61,182.43 L43.5,182.67 Z" fill="#f1eeed"/>
<line x1="38.55" y1="209.4" x2="292.5" y2="209.4" stroke="#000" stroke-opacity="0.85" stroke-width="1"/>
<g fill="#ace6f8" fill-opacity="0.6" stroke="#000" stroke-opacity="0.85" stroke-width="1"><rect x="38.55" y="208.6" width="7.26" height="0.8"/><rect x="45.81" y="204.4" width="7.26" height="5"/><rect x="53.06" y="202.7" width="7.26" height="6.7"/><rect x="60.32" y="196.4" width="7.26" height="13"/><rect x="67.57" y="186.9" width="7.26" height="22.5"/><rect x="74.83" y="174.9" width="7.26" height="34.5"/><rect x="82.08" y="151.1" width="7.26" height="58.3"/><rect x="89.34" y="148.6" width="7.26" height="60.8"/><rect x="96.6" y="113.6" width="7.26" height="95.8"/><rect x="103.85" y="99.3" width="7.26" height="110.1"/><rect x="111.11" y="60.3" width="7.26" height="149.1"/><rect x="118.36" y="47.3" width="7.26" height="162.1"/><rect x="125.62" y="38.2" width="7.26" height="171.2"/><rect x="132.87" y="35.3" width="7.26" height="174.1"/><rect x="140.13" y="51.5" width="7.26" height="157.9"/><rect x="147.39" y="51.5" width="7.26" height="157.9"/><rect x="154.64" y="71.5" width="7.26" height="137.9"/><rect x="161.9" y="73.6" width="7.26" height="135.8"/><rect x="169.15" y="103.1" width="7.26" height="106.3"/><rect x="176.41" y="121.3" width="7.26" height="88.1"/><rect x="183.66" y="125.5" width="7.26" height="83.9"/><rect x="190.92" y="156.7" width="7.26" height="52.7"/><rect x="198.18" y="141.5" width="7.26" height="67.9"/><rect x="205.43" y="176.6" width="7.26" height="32.8"/><rect x="212.69" y="178.6" width="7.26" height="30.8"/><rect x="219.94" y="190.5" width="7.26" height="18.9"/><rect x="227.2" y="188.3" width="7.26" height="21.1"/><rect x="234.45" y="193.5" width="7.26" height="15.9"/><rect x="241.71" y="205.6" width="7.26" height="3.8"/><rect x="248.97" y="202.5" width="7.26" height="6.9"/><rect x="256.22" y="208.3" width="7.26" height="1.1"/><rect x="263.48" y="205.5" width="7.26" height="3.9"/><rect x="270.73" y="209.4" width="7.26" height="0"/><rect x="277.99" y="208" width="7.26" height="1.4"/><rect x="285.24" y="208" width="7.26" height="1.4"/></g>
<path d="M43.5,129.5 L46.61,132.04 L49.73,134.5 L52.84,136.86 L55.96,139.14 L59.07,141.33 L62.18,143.45 L65.3,145.48 L68.41,147.44 L71.53,149.32 L74.64,151.13 L77.75,152.87 L80.87,154.54 L83.98,156.14 L87.09,157.67 L90.21,159.15 L93.32,160.56 L96.44,161.91 L99.55,163.2 L102.66,164.44 L105.78,165.62 L108.89,166.75 L112.01,167.83 L115.12,168.86 L118.23,169.84 L121.35,170.77 L124.46,171.66 L127.58,172.5 L130.69,173.31 L133.8,174.07 L136.92,174.47 L140.03,174.05 L143.15,173.58 L146.26,173.06 L149.37,172.48 L152.49,171.85 L155.6,171.16 L158.72,170.4 L161.83,169.57 L164.94,168.67 L168.06,167.69 L171.17,166.62 L174.28,165.46 L177.4,164.22 L180.51,162.87 L183.63,161.43 L186.74,159.88 L189.85,158.24 L192.97,156.48 L196.08,154.62 L199.2,152.64 L202.31,150.55 L205.42,148.34 L208.54,146.01 L211.65,143.56 L214.77,140.98 L217.88,138.28 L220.99,135.45 L224.11,132.49 L227.22,129.41 L230.34,126.2 L233.45,122.86 L236.56,119.39 L239.68,115.79 L242.79,112.06 L245.91,108.19 L249.02,104.18 L252.13,100.04 L255.25,95.76 L258.36,91.35 L261.47,86.8 L264.59,82.11 L267.7,77.29 L270.82,72.35 L273.93,67.28 L277.04,62.09 L280.16,56.78 L283.27,51.36 L286.39,45.84 L289.5,40.22 L289.5,154.79 L286.39,155.45 L283.27,156.09 L280.16,156.7 L277.04,157.3 L273.93,157.88 L270.82,158.44 L267.7,158.99 L264.59,159.52 L261.47,160.05 L258.36,160.56 L255.25,161.06 L252.13,161.55 L249.02,162.03 L245.91,162.51 L242.79,162.98 L239.68,163.44 L236.56,163.9 L233.45,164.36 L230.34,164.82 L227.22,165.27 L224.11,165.72 L220.99,166.17 L217.88,166.62 L214.77,167.06 L211.65,167.49 L208.54,167.92 L205.42,168.34 L202.31,168.74 L199.2,169.14 L196.08,169.53 L192.97,169.9 L189.85,170.27 L186.74,170.61 L183.63,170.95 L180.51,171.27 L177.4,171.57 L174.28,171.85 L171.17,172.12 L168.06,172.37 L164.94,172.61 L161.83,172.83 L158.72,173.05 L155.6,173.25 L152.49,173.48 L149.37,173.77 L146.26,174.03 L143.15,174.24 L140.03,174.41 L136.92,174.55 L133.8,174.87 L130.69,175.27 L127.58,175.64 L124.46,176.01 L121.35,176.35 L118.23,176.69 L115.12,177.01 L112.01,177.31 L108.89,177.61 L105.78,177.9 L102.66,178.17 L99.55,178.44 L96.44,178.71 L93.32,178.96 L90.21,179.21 L87.09,179.45 L83.98,179.69 L80.87,179.93 L77.75,180.16 L74.64,180.39 L71.53,180.61 L68.41,180.84 L65.3,181.06 L62.18,181.29 L59.07,181.51 L55.96,181.74 L52.84,181.97 L49.73,182.2 L46.61,182.43 L43.5,182.67 Z" fill="#c87890" fill-opacity="0.45"/>
<path d="M43.5,162.99 L46.61,163.87 L49.73,164.7 L52.84,165.51 L55.96,166.27 L59.07,167 L62.18,167.7 L65.3,168.36 L68.41,168.98 L71.53,169.57 L74.64,170.13 L77.75,170.66 L80.87,171.16 L83.98,171.62 L87.09,172.05 L90.21,172.44 L93.32,172.81 L96.44,173.14 L99.55,173.45 L102.66,173.72 L105.78,173.96 L108.89,174.17 L112.01,174.34 L115.12,174.49 L118.23,174.6 L121.35,174.67 L124.46,174.72 L127.58,174.73 L130.69,174.7 L133.8,174.64 L136.92,174.55 L140.03,174.41 L143.15,174.24 L146.26,174.03 L149.37,173.77 L152.49,173.48 L155.6,173.13 L158.72,172.74 L161.83,172.3 L164.94,171.81 L168.06,171.27 L171.17,170.67 L174.28,170 L177.4,169.28 L180.51,168.5 L183.63,167.66 L186.74,166.76 L189.85,165.8 L192.97,164.78 L196.08,163.7 L199.2,162.57 L202.31,161.38 L205.42,160.14 L208.54,158.84 L211.65,157.49 L214.77,156.09 L217.88,154.64 L220.99,153.15 L224.11,151.62 L227.22,150.05 L230.34,148.44 L233.45,146.8 L236.56,145.13 L239.68,143.43 L242.79,141.71 L245.91,139.97 L249.02,138.2 L252.13,136.42 L255.25,134.62 L258.36,132.82 L261.47,131.01 L264.59,129.19 L267.7,127.38 L270.82,125.58 L273.93,123.79 L277.04,122.02 L280.16,120.27 L283.27,118.55 L286.39,116.86 L289.5,115.22" fill="none" stroke="#f04545" stroke-width="1"/>
<line x1="26" y1="174.7" x2="304.9" y2="174.7" stroke="#f02828" stroke-width="1.25" stroke-dasharray="4.3,3.5"/>
<rect x="26" y="26.7" width="278.9" height="191.8" fill="none" stroke="#767676" stroke-width="1.35"/>
<line x1="23.4" y1="209.5" x2="26" y2="209.5" stroke="#333" stroke-width="0.8"/>
<text x="22.5" y="211.9" font-size="6.8" text-anchor="end" class="tk">0</text>
<line x1="23.4" y1="174.7" x2="26" y2="174.7" stroke="#333" stroke-width="0.8"/>
<text x="22.5" y="177.1" font-size="6.8" text-anchor="end" class="tk">1</text>
<line x1="23.4" y1="139.9" x2="26" y2="139.9" stroke="#333" stroke-width="0.8"/>
<text x="22.5" y="142.3" font-size="6.8" text-anchor="end" class="tk">2</text>
<line x1="23.4" y1="105.1" x2="26" y2="105.1" stroke="#333" stroke-width="0.8"/>
<text x="22.5" y="107.5" font-size="6.8" text-anchor="end" class="tk">3</text>
<line x1="23.4" y1="70.3" x2="26" y2="70.3" stroke="#333" stroke-width="0.8"/>
<text x="22.5" y="72.7" font-size="6.8" text-anchor="end" class="tk">4</text>
<line x1="23.4" y1="35.5" x2="26" y2="35.5" stroke="#333" stroke-width="0.8"/>
<text x="22.5" y="37.9" font-size="6.8" text-anchor="end" class="tk">5</text>
<line x1="304.9" y1="206.4" x2="307.5" y2="206.4" stroke="#333" stroke-width="0.8"/>
<text x="308.7" y="208.8" font-size="6.8" class="tk">0</text>
<line x1="304.9" y1="142.7" x2="307.5" y2="142.7" stroke="#333" stroke-width="0.8"/>
<text x="308.7" y="145.1" font-size="6.8" class="tk">50</text>
<line x1="304.9" y1="78.9" x2="307.5" y2="78.9" stroke="#333" stroke-width="0.8"/>
<text x="308.7" y="81.3" font-size="6.8" class="tk">100</text>
<line x1="65.34" y1="218.5" x2="65.34" y2="221.1" stroke="#333" stroke-width="0.8"/>
<text x="65.34" y="227.4" font-size="6.8" text-anchor="middle" class="tk">−2SD</text>
<line x1="105.42" y1="218.5" x2="105.42" y2="221.1" stroke="#333" stroke-width="0.8"/>
<text x="105.42" y="227.4" font-size="6.8" text-anchor="middle" class="tk">−1SD</text>
<line x1="145.5" y1="218.5" x2="145.5" y2="221.1" stroke="#333" stroke-width="0.8"/>
<text x="145.5" y="227.4" font-size="6.8" text-anchor="middle" class="tk">mean</text>
<line x1="185.58" y1="218.5" x2="185.58" y2="221.1" stroke="#333" stroke-width="0.8"/>
<text x="185.58" y="227.4" font-size="6.8" text-anchor="middle" class="tk">1SD</text>
<line x1="225.66" y1="218.5" x2="225.66" y2="221.1" stroke="#333" stroke-width="0.8"/>
<text x="225.66" y="227.4" font-size="6.8" text-anchor="middle" class="tk">2SD</text>
<text x="163.8" y="237.2" font-size="8.4" text-anchor="middle" class="ax">PhenoAge acceleration</text>
<text transform="translate(15.6,122.2) rotate(-90)" font-size="8.3" text-anchor="middle" class="ax">HR (95%CI)</text>
<text transform="translate(324.2,122.6) rotate(90)" font-size="8.4" text-anchor="middle" class="ax">Frequency</text>
<text x="178.8" y="48.8" font-size="8.7" fill="#111"><tspan font-style="italic">P</tspan> for nonlinearity = 0.125</text>
<text x="3.3" y="13.4" font-family="Liberation Serif, serif" font-size="19.6" fill="#111" stroke="#111" stroke-width="0.25">d)</text>
</g>
</svg></body></html>
